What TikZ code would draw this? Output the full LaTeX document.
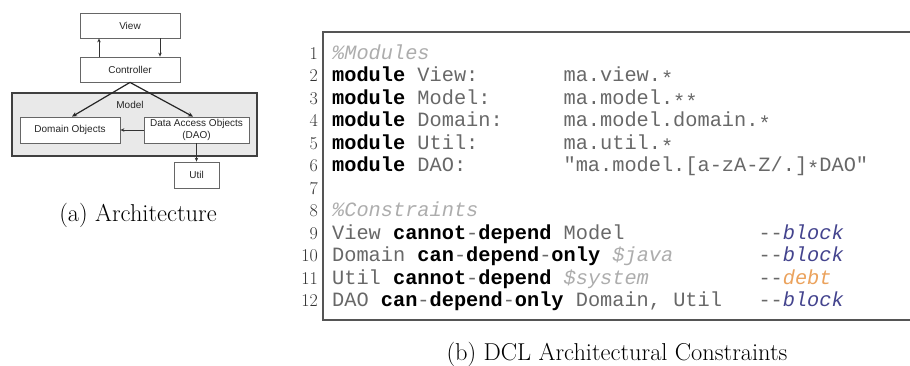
\documentclass[tikz,border=0pt]{standalone}
\usepackage{fontspec}
\setsansfont{Liberation Sans}
\setmonofont{Liberation Mono}
\usetikzlibrary{arrows.meta}

\definecolor{idgray}{HTML}{686868}
\definecolor{comgray}{HTML}{ADADAD}
\definecolor{blockblue}{HTML}{44448E}
\definecolor{debtorange}{HTML}{EBA25C}
\definecolor{framegray}{HTML}{555555}
\definecolor{boxgray}{HTML}{666666}
\definecolor{modelfill}{HTML}{E9E9E9}

% listing styles
\newcommand\kw[1]{{\bfseries\color{black}#1}}
\newcommand\cid[1]{{\color{idgray}#1}}
\newcommand\cit[1]{{\itshape\color{comgray}#1}}
\newcommand\wild{\raisebox{-0.4ex}{*}}
\newcommand\tagblock{{\color{idgray}--}{\itshape\color{blockblue}block}}
\newcommand\tagdebt{{\color{idgray}--}{\itshape\color{debtorange}debt}}

\begin{document}
\begin{tikzpicture}[x=1pt,y=-1pt,
  box/.style={draw=boxgray,line width=0.8pt,fill=white,inner sep=1pt,
    font=\sffamily\fontsize{10}{11}\selectfont,text=black!85,align=center},
  modelbox/.style={draw=black!75,line width=1.5pt,fill=modelfill},
  arr/.style={draw=black!80,line width=0.7pt,-{Stealth[length=4pt,width=3.5pt]}},
  thickarr/.style={draw=black!85,line width=1.2pt,-{Stealth[length=5pt,width=4.5pt]}},
  code/.style={anchor=base west,inner sep=0pt,text height=15pt,text depth=4pt,
    font=\ttfamily\fontsize{20.3}{22.5}\selectfont},
  lnum/.style={anchor=base east,inner sep=0pt,text=black!80,
    font=\fontsize{18}{20}\selectfont},
  captext/.style={anchor=base,inner sep=0pt,font=\fontsize{24.4}{28}\selectfont}]

\useasboundingbox (0,0) rectangle (910,365);
\fill[white] (0,0) rectangle (910,365);

% ---------- (a) architecture ----------
\node[modelbox,minimum width=245pt,minimum height=63pt,inner sep=0pt]
  (model) at (134.5,124.5) {};
\node[inner sep=0pt,font=\sffamily\fontsize{10}{11}\selectfont,text=black!85]
  (modellbl) at (130,105) {Model};

\node[box,minimum width=100pt,minimum height=25pt] (view) at (130,25.5) {View};
\node[box,minimum width=100pt,minimum height=25pt] (ctrl) at (130,69.5) {Controller};
\node[box,minimum width=100pt,minimum height=26pt] (dom) at (70,130) {Domain Objects};
\node[box,minimum width=105pt,minimum height=26pt,
  font=\sffamily\fontsize{10}{12}\selectfont] (dao) at (196.5,130)
  {Data Access Objects\\(DAO)};
\node[box,minimum width=45pt,minimum height=26pt] (util) at (196.5,175) {Util};

\coordinate (up) at (99,0);
\coordinate (down) at (160,0);
\coordinate (dtgt) at (72,0);
\coordinate (atgt) at (193,0);

\draw[arr] (ctrl.north -| up) -- (view.south -| up);
\draw[arr] (view.south -| down) -- (ctrl.north -| down);
\draw[thickarr] (ctrl.south) -- (dom.north -| dtgt);
\draw[thickarr] (ctrl.south) -- (dao.north -| atgt);
\draw[arr] (dao.west) -- (dom.east);
\draw[arr] (dao.south -| util.north) -- (util.north);

\node[captext] (capa) at (138,221) {(a) Architecture};

% ---------- (b) DCL listing ----------
\coordinate (ftl) at (323,32);
\coordinate (fbl) at (323,320);
\coordinate (ftr) at (910,32);
\coordinate (fbr) at (910,320);
\draw[framegray,line width=1.4pt] (ftr) -- (ftl) -- (fbl) -- (fbr);

\foreach \i in {1,...,12}
  \node[lnum] (ln\i) at (318,{59+22.5*(\i-1)}) {\i};

% columns: 0 -> 332, 19 -> 563.4, 35 -> 758.3
\node[code] (c1) at (332,59) {\cit{\%Modules}};
\node[code] (c2a) at (332,81.5) {\kw{module} \cid{View:}};
\node[code] (c2b) at (563.4,81.5) {\cid{ma.view.\wild}};
\node[code] (c3a) at (332,104) {\kw{module} \cid{Model:}};
\node[code] (c3b) at (563.4,104) {\cid{ma.model.\wild\wild}};
\node[code] (c4a) at (332,126.5) {\kw{module} \cid{Domain:}};
\node[code] (c4b) at (563.4,126.5) {\cid{ma.model.domain.\wild}};
\node[code] (c5a) at (332,149) {\kw{module} \cid{Util:}};
\node[code] (c5b) at (563.4,149) {\cid{ma.util.\wild}};
\node[code] (c6a) at (332,171.5) {\kw{module} \cid{DAO:}};
\node[code] (c6b) at (563.4,171.5) {\cid{"ma.model.[a-zA-Z/.]\wild DAO"}};

\node[code] (c8) at (332,216.5) {\cit{\%Constraints}};
\node[code] (c9a) at (332,239) {\cid{View} \kw{cannot}\cid{-}\kw{depend} \cid{Model}};
\node[code] (c9b) at (758.3,239) {\tagblock};
\node[code] (c10a) at (332,261.5) {\cid{Domain} \kw{can}\cid{-}\kw{depend}\cid{-}\kw{only} \cit{\$java}};
\node[code] (c10b) at (758.3,261.5) {\tagblock};
\node[code] (c11a) at (332,284) {\cid{Util} \kw{cannot}\cid{-}\kw{depend} \cit{\$system}};
\node[code] (c11b) at (758.3,284) {\tagdebt};
\node[code] (c12a) at (332,306.5) {\cid{DAO} \kw{can}\cid{-}\kw{depend}\cid{-}\kw{only} \cid{Domain, Util}};
\node[code] (c12b) at (758.3,306.5) {\tagblock};

\node[captext] (capb) at (617,360) {(b) DCL Architectural Constraints};
\end{tikzpicture}
\end{document}
